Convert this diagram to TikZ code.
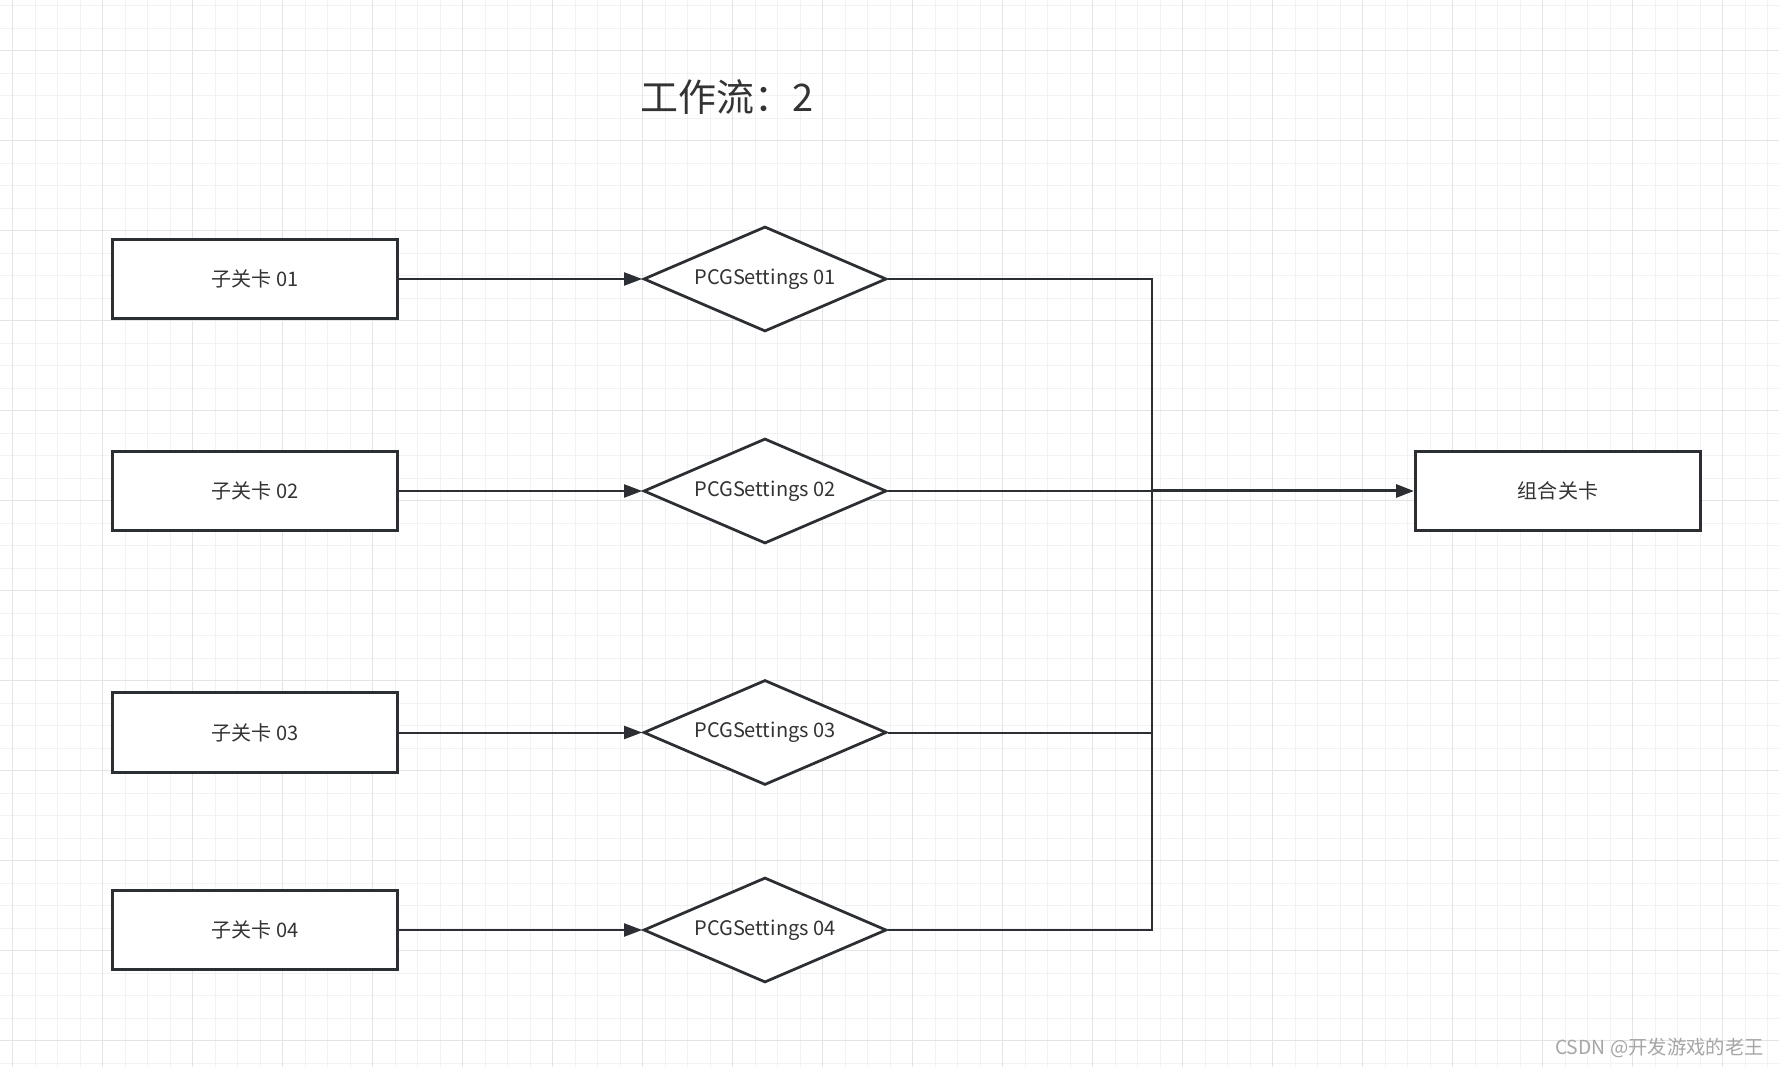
\documentclass[tikz,border=0pt]{standalone}
\usepackage{fontspec}
\newfontfamily\cjk{Noto Sans CJK SC}
\usepackage{tikz}
\usetikzlibrary{shapes.geometric,arrows.meta}
\usetikzlibrary{positioning}

\definecolor{inkline}{HTML}{2B2F33}
\definecolor{inktext}{HTML}{333333}
\definecolor{gridminor}{HTML}{F2F2F2}
\definecolor{gridmajor}{HTML}{E4E4E4}
\definecolor{markgray}{HTML}{A6A6A6}

\tikzset{
  levelbox/.style={draw=inkline,line width=0.06cm,fill=white,inner sep=0pt,
    minimum width=5.7cm,minimum height=1.6cm,font=\cjk\fontsize{11.4}{13}\selectfont,
    text=inktext},
  pcgnode/.style={diamond,aspect=2.31,draw=inkline,line width=0.055cm,fill=white,
    inner sep=0pt,minimum width=4.86cm,minimum height=2.1cm,
    font=\cjk\fontsize{11.4}{13}\selectfont,text=inktext},
  flow/.style={draw=inkline,line width=0.04cm,
    -{Triangle[length=0.36cm,width=0.26cm]}},
  link/.style={draw=inkline,line width=0.04cm}
}

\begin{document}
\begin{tikzpicture}[x=0.02cm,y=-0.02cm]

  \useasboundingbox (0,0) rectangle (1779,1067);
  \fill[white] (0,0) rectangle (1779,1067);

  % background grid
  \foreach \gx in {12.7,35.2,...,1779} {
    \draw[gridminor,line width=0.02cm] (\gx,0) -- (\gx,1067);
  }
  \foreach \gy in {5.7,28.2,...,1067} {
    \draw[gridminor,line width=0.02cm] (0,\gy) -- (1779,\gy);
  }
  \foreach \gx in {12.7,102.7,...,1779} {
    \draw[gridmajor,line width=0.03cm] (\gx,0) -- (\gx,1067);
  }
  \foreach \gy in {50.7,140.7,...,1067} {
    \draw[gridmajor,line width=0.03cm] (0,\gy) -- (1779,\gy);
  }

  \node[font=\cjk\fontsize{21.6}{24}\selectfont,text=inktext] (title) at (727,97.5)
    {工作流：2};

  \def \bx {255}
  \def \dx {765}
  \def \jx {1151.7}

  \node[levelbox] (lv1) at (\bx,279) {子关卡 01};
  \node[levelbox] (lv2) at (\bx,491) {子关卡 02};
  \node[levelbox] (lv3) at (\bx,732.5) {子关卡 03};
  \node[levelbox] (lv4) at (\bx,930) {子关卡 04};

  \node[pcgnode] (pcg1) at (\dx,279) {PCGSettings 01};
  \node[pcgnode] (pcg2) at (\dx,491) {PCGSettings 02};
  \node[pcgnode] (pcg3) at (\dx,732.5) {PCGSettings 03};
  \node[pcgnode] (pcg4) at (\dx,930) {PCGSettings 04};

  \node[levelbox] (merge) at (1558,491) {组合关卡};

  \coordinate (join) at (\jx,491);

  \foreach \i in {1,2,3,4} {
    \draw[flow] (lv\i.east) -- (pcg\i.west);
  }

  \draw[link] (pcg1.east) -| (join);
  \draw[link] (pcg3.east) -| (join);
  \draw[link] (pcg4.east) -| (join);
  \draw[link] (pcg2.east) -- (join);
  \draw[flow,line width=0.06cm] (join) -- (merge.west);

  \node[anchor=east,inner sep=0pt,font=\cjk\fontsize{11}{13}\selectfont,
    text=markgray] (mark) at (1764,1048) {CSDN @开发游戏的老王};

\end{tikzpicture}
\end{document}
